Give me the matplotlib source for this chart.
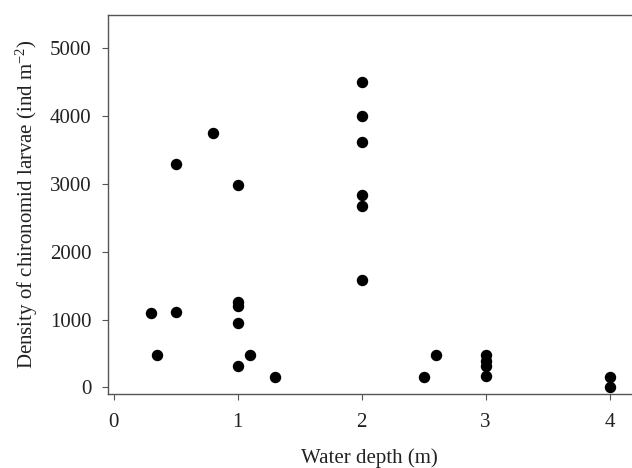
import matplotlib
matplotlib.use("Agg")
import matplotlib.pyplot as plt

# Water depth (m) and larval density (ind m^-2)
depth = [0.3, 0.35, 0.5, 0.5, 0.8,
         1.0, 1.0, 1.0, 1.0, 1.0, 1.1, 1.3,
         2.0, 2.0, 2.0, 2.0, 2.0, 2.0,
         2.5, 2.6,
         3.0, 3.0, 3.0, 3.0,
         4.0, 4.0]
density = [1100, 470, 3300, 1105, 3750,
           2990, 1260, 1200, 945, 315, 470, 155,
           4500, 4000, 3620, 2835, 2680, 1580,
           155, 470,
           470, 390, 315, 160,
           155, 0]
x_ticks = [0, 1, 2, 3, 4]
y_ticks = [0, 1000, 2000, 3000, 4000, 5000]

plt.rcParams["font.family"] = ["Liberation Serif", "DejaVu Serif"]
plt.rcParams["mathtext.fontset"] = "custom"
plt.rcParams["mathtext.rm"] = "Liberation Serif"
plt.rcParams["mathtext.it"] = "Liberation Serif"

fig = plt.figure(figsize=(6.32, 4.68), dpi=100)
ax = fig.add_axes([0.1704, 0.1581, 0.8296, 0.8105])

ax.scatter(depth, density, s=52, color="black", zorder=3, clip_on=False)

ax.set_xlim(-0.048, 4.18)
ax.set_ylim(-99, 5496)
ax.set_xticks(x_ticks)
ax.set_yticks(y_ticks)

for side in ["left", "bottom", "top"]:
    ax.spines[side].set_color("#555555")
    ax.spines[side].set_linewidth(1.0)
ax.spines["right"].set_visible(False)

ax.tick_params(axis="both", direction="out", length=4.5, width=0.8,
               color="#555555", labelsize=15, labelcolor="#222222")
ax.tick_params(axis="x", pad=9)
ax.tick_params(axis="y", pad=7)

ax.set_xlabel("Water depth (m)", fontsize=15, color="#222222", labelpad=12)
ax.set_ylabel("Density of chironomid larvae (ind m$^{-2}$)", fontsize=15,
              color="#222222", labelpad=7)

fig.savefig("out.png", dpi=100)
